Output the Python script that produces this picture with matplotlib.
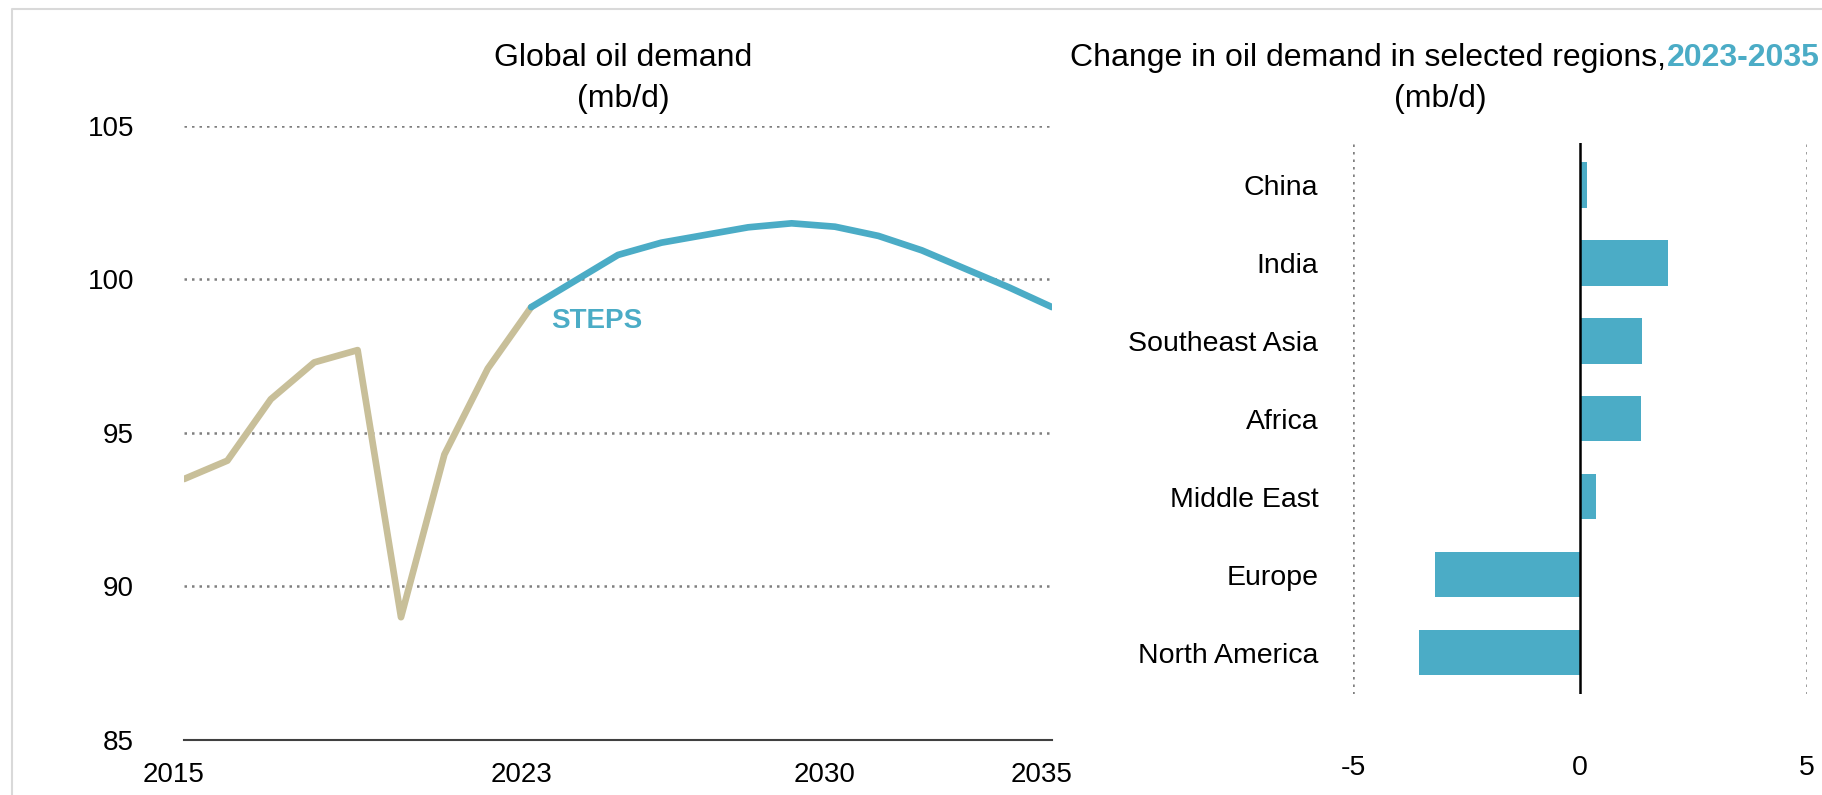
import numpy as np
import matplotlib
matplotlib.use("Agg")
import matplotlib.pyplot as plt
from matplotlib.lines import Line2D
from matplotlib.transforms import ScaledTranslation

plt.rcParams["font.family"] = ["Liberation Sans", "DejaVu Sans"]
plt.rcParams["axes.unicode_minus"] = False

# global oil demand (mb/d)
years_hist = [2015, 2016, 2017, 2018, 2019, 2020, 2021, 2022, 2023]
demand_hist = [93.5, 94.1, 96.1, 97.3, 97.7, 89.0, 94.3, 97.1, 99.1]
years_steps = [2023, 2024, 2025, 2026, 2027, 2028, 2029, 2030, 2031, 2032, 2033, 2034, 2035]
demand_steps = [99.1, 99.95, 100.8, 101.2, 101.45, 101.7, 101.83, 101.72, 101.42, 100.95, 100.35, 99.75, 99.1]
x_ticks = [2015, 2023, 2030, 2035]
y_ticks = [85, 90, 95, 100, 105]

# change in oil demand 2023-2035 (mb/d)
regions = ["China", "India", "Southeast Asia", "Africa", "Middle East", "Europe", "North America"]
change = [0.15, 1.94, 1.37, 1.34, 0.35, -3.19, -3.55]
bar_ticks = [-5, 0, 5]

TEAL = "#4BACC6"
BEIGE = "#C8BF99"
GRID = "#7f7f7f"

W, H = 1822, 795
fig = plt.figure(figsize=(W / 100, H / 100), dpi=100)

# left panel
ax1 = fig.add_axes([184 / W, (H - 740) / H, 868 / W, 614 / H])
ax1.plot(years_hist, demand_hist, color=BEIGE, lw=4.8, solid_joinstyle="round", solid_capstyle="round", zorder=3)
ax1.plot(years_steps, demand_steps, color=TEAL, lw=4.8, solid_joinstyle="round", solid_capstyle="round", zorder=4)
ax1.set_xlim(2015, 2035)
ax1.set_ylim(85, 105)
ax1.set_xticks(x_ticks)
ax1.set_yticks(y_ticks)
for v in y_ticks[1:]:
    ax1.axhline(v, color=GRID, lw=1.8, ls=(0, (1, 2)), zorder=1)
for s in ["top", "right", "left"]:
    ax1.spines[s].set_visible(False)
ax1.spines["bottom"].set_color("#404040")
ax1.spines["bottom"].set_linewidth(1.5)
ax1.tick_params(axis="both", length=0, labelsize=20)
ax1.tick_params(axis="y", pad=36)
ax1.tick_params(axis="x", pad=16)
shift = ScaledTranslation(-10 / 100, 0, fig.dpi_scale_trans)
for lab in ax1.get_xticklabels():
    lab.set_transform(lab.get_transform() + shift)
ax1.text(2023.45, 98.65, "STEPS", color=TEAL, fontsize=20, fontweight="bold", va="center", ha="left")

fig.text(623 / W, 1 - 58 / H, "Global oil demand", fontsize=23, ha="center", va="center")
fig.text(623 / W, 1 - 99 / H, "(mb/d)", fontsize=23, ha="center", va="center")

# right panel
ax2 = fig.add_axes([1353 / W, (H - 694) / H, 454 / W, 551 / H])
ypos = np.arange(len(regions))
ax2.barh(ypos, change, height=0.58, color=TEAL, zorder=2)
ax2.set_xlim(-5, 5)
ax2.set_ylim(6.53, -0.54)
ax2.set_yticks(ypos)
ax2.set_yticklabels(regions)
ax2.set_xticks(bar_ticks)
ax2.axvline(0, color="black", lw=1.8, zorder=3)
for v in (-5, 5):
    ax2.axvline(v, color=GRID, lw=1.8, ls=(0, (1, 2)), zorder=1)
for s in ax2.spines.values():
    s.set_visible(False)
ax2.tick_params(axis="both", length=0, labelsize=20.5)
ax2.tick_params(axis="y", pad=25)
ax2.tick_params(axis="x", pad=44)

t1 = fig.text(1070 / W, 1 - 58 / H, "Change in oil demand in selected regions,", fontsize=23, ha="left", va="center")
fig.text(1440 / W, 1 - 99 / H, "(mb/d)", fontsize=23, ha="center", va="center")
ax2.annotate("2023-2035", xy=(1, 0.5), xycoords=t1, xytext=(0.5, 0), textcoords="offset points",
             fontsize=23, fontweight="bold", color=TEAL, ha="left", va="center")

# light frame
fig.add_artist(Line2D([12 / W, 12 / W, 1], [0, 1 - 9 / H, 1 - 9 / H], transform=fig.transFigure,
                      color="#d9d9d9", lw=1.5))

fig.savefig("out.png", dpi=100)
